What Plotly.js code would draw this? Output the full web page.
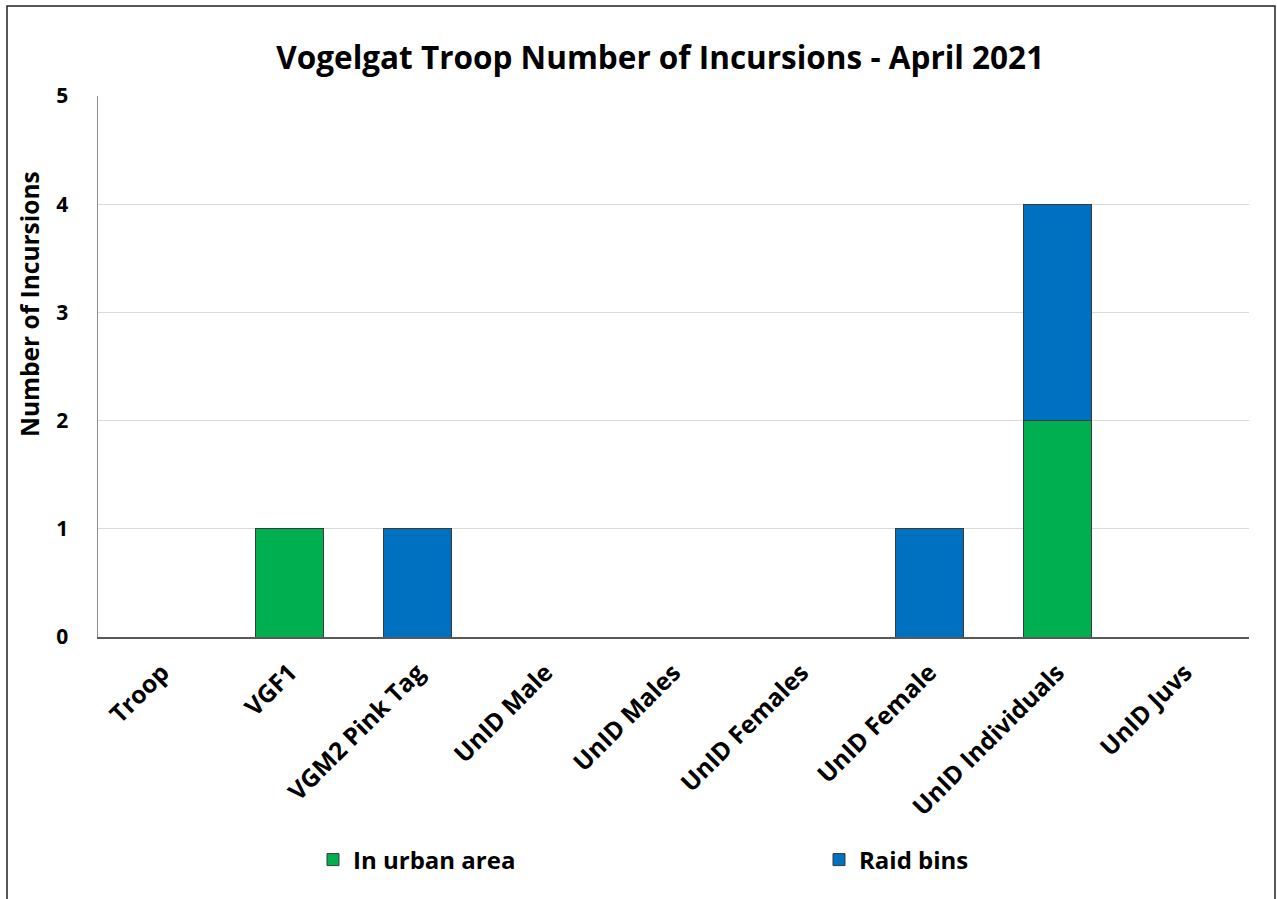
<!DOCTYPE html>
<html>
<head>
<meta charset="utf-8">
<script src="https://cdn.plot.ly/plotly-3.0.1.min.js"></script>
<style>
  html, body { margin: 0; padding: 0; background: #fff; }
  #chart { width: 1277px; height: 899px; }
</style>
</head>
<body>
<div id="chart"></div>
<script>
// Incursions by individual / group, Vogelgat troop, April 2021
const categories = ["Troop", "VGF1", "VGM2 Pink Tag", "UnID Male", "UnID Males",
                    "UnID Females", "UnID Female", "UnID Individuals", "UnID Juvs"];
const urbanArea = [0, 1, 0, 0, 0, 0, 0, 2, 0];
const raidBins  = [0, 0, 1, 0, 0, 0, 1, 2, 0];
const yTitle = "Number of Incursions";
const chartTitle = "Vogelgat Troop Number of Incursions - April 2021";

const FONT = "'Open Sans', Lato, sans-serif";
const barLine = { color: "#3a3a3a", width: 1 };

// plot area in pixels, used to place paper-referenced items
const PL = 98, PR = 1249, PT = 96, PB = 637;
const px2x = v => (v - PL) / (PR - PL);
const px2y = v => (PB - v) / (PB - PT);

const traces = [
  {
    type: "bar", name: "In urban area", x: categories, y: urbanArea,
    marker: { color: "#00B050", line: barLine }, legend: "legend"
  },
  {
    type: "bar", name: "Raid bins", x: categories, y: raidBins,
    marker: { color: "#0070C0", line: barLine }, legend: "legend2"
  }
];

const legendFont = { family: FONT, size: 24, color: "#000", weight: "bold" };

const layout = {
  width: 1277, height: 899,
  margin: { l: PL, r: 1277 - PR, t: PT, b: 899 - PB },
  paper_bgcolor: "#fff", plot_bgcolor: "#fff",
  barmode: "stack", bargap: 0.47,
  font: { family: FONT, color: "#000", size: 20, weight: "bold" },
  title: {
    text: "<b>" + chartTitle + "</b>",
    font: { family: FONT, size: 31.5, color: "#000" },
    x: 0.517, xanchor: "center", y: 0.935, yanchor: "middle"
  },
  xaxis: {
    type: "category", tickangle: -45,
    tickfont: { family: FONT, size: 24.5, color: "#000", weight: "bold" },
    showline: true, linecolor: "#595959", linewidth: 1.5,
    ticks: "", showgrid: false, zeroline: false,
    ticklabelstandoff: 10, automargin: false
  },
  yaxis: {
    range: [0, 5], dtick: 1, tick0: 0,
    tickfont: { family: FONT, size: 21, color: "#000", weight: "bold" },
    showline: true, linecolor: "#8c8c8c", linewidth: 1.5,
    showgrid: true, gridcolor: "#dadada", gridwidth: 1,
    zeroline: false, ticks: "", ticklabelstandoff: 24, automargin: false
  },
  annotations: [
    {
      text: "<b>" + yTitle + "</b>", textangle: -90, showarrow: false,
      xref: "paper", yref: "paper", x: px2x(29), y: px2y(304),
      xanchor: "center", yanchor: "middle",
      font: { family: FONT, size: 24.5, color: "#000" }
    }
  ],
  legend: {
    x: px2x(327 - 14), xanchor: "left", y: px2y(860), yanchor: "middle",
    itemwidth: 30, font: legendFont, bgcolor: "rgba(0,0,0,0)"
  },
  legend2: {
    x: px2x(833 - 14), xanchor: "left", y: px2y(860), yanchor: "middle",
    itemwidth: 30, font: legendFont, bgcolor: "rgba(0,0,0,0)"
  },
  shapes: [
    {
      type: "rect", xref: "paper", yref: "paper", layer: "below",
      x0: px2x(7), x1: px2x(1275), y0: px2y(920), y1: px2y(6),
      line: { color: "#222", width: 1.5 }, fillcolor: "rgba(0,0,0,0)"
    }
  ],
  showlegend: true
};

Plotly.newPlot("chart", traces, layout, { displayModeBar: false, staticPlot: true });
</script>
</body>
</html>
